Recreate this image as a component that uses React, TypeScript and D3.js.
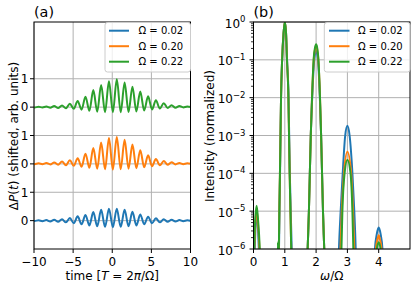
import * as d3 from 'd3';

// ---- panel (a): oscillation extrema ----
const peakT = [-10.42, -9.42, -8.42, -7.42, -6.42, -5.42, -4.42, -3.42, -2.42, -1.42, -0.42, 0.58, 1.58, 2.58, 3.58, 4.58, 5.58, 6.58, 7.58, 8.58, 9.58];
const troughT = [-9.92, -8.92, -7.92, -6.92, -5.92, -4.92, -3.92, -2.92, -1.92, -0.92, 0.08, 1.08, 2.08, 3.08, 4.08, 5.08, 6.08, 7.08, 8.08, 9.08, 10.08];

const bluePeaks = [0.01, 0.01, 0.02, 0.03, 0.05, 0.09, 0.15, 0.2, 0.3, 0.38, 0.42, 0.42, 0.38, 0.31, 0.22, 0.14, 0.08, 0.05, 0.03, 0.02, 0.01];
const blueTroughs = [-0.01, -0.02, -0.03, -0.04, -0.06, -0.09, -0.13, -0.17, -0.2, -0.22, -0.23, -0.22, -0.2, -0.17, -0.13, -0.09, -0.06, -0.04, -0.03, -0.02, -0.01];
const orangePeaks = [0.01, 0.02, 0.03, 0.05, 0.08, 0.13, 0.2, 0.36, 0.56, 0.75, 0.91, 0.95, 0.85, 0.68, 0.48, 0.3, 0.17, 0.1, 0.06, 0.03, 0.02];
const orangeTroughs = [-0.01, -0.01, -0.02, -0.03, -0.05, -0.07, -0.1, -0.14, -0.17, -0.19, -0.2, -0.19, -0.17, -0.15, -0.12, -0.08, -0.05, -0.03, -0.02, -0.01, 0];
const greenPeaks = [0.01, 0.01, 0.02, 0.04, 0.06, 0.12, 0.22, 0.37, 0.6, 0.78, 0.91, 0.98, 0.87, 0.72, 0.55, 0.38, 0.24, 0.14, 0.07, 0.04, 0.02];
const greenTroughs = [-0.01, -0.01, -0.02, -0.03, -0.04, -0.06, -0.09, -0.13, -0.16, -0.18, -0.18, -0.18, -0.17, -0.15, -0.12, -0.08, -0.05, -0.03, -0.02, -0.01, 0];

const shifts = [0, 2, 4];
const xTicksA = [-10, -5, 0, 5, 10];
const yTicksA = [0, 1, 2, 3, 4, 5];
const yTickLabelsA = ['0', '1', '0', '1', '0', '1'];

// ---- panel (b): spectrum peaks [omega/Omega, intensity] ----
const specBlue = [
  [[0.02, 3e-7], [0.04, 1e-6], [0.07, 5e-6], [0.1, 8e-6], [0.13, 5e-6], [0.17, 1e-6], [0.19, 3e-7]],
  [[0.8, 3e-7], [0.815, 1e-6], [0.83, 1e-5], [0.848, 1e-4], [0.864, 1e-3], [0.88, 1e-2], [0.915, 1e-1], [0.96, 0.5], [1.0, 1], [1.04, 0.5], [1.072, 1e-1], [1.12, 1e-2], [1.14, 1e-3], [1.16, 1e-4], [1.19, 1e-5], [1.22, 1e-6], [1.235, 3e-7]],
  [[1.71, 3e-7], [1.73, 1e-6], [1.77, 1e-5], [1.8, 1e-4], [1.83, 1e-3], [1.875, 1e-2], [1.94, 1e-1], [2.0, 0.17], [2.06, 1e-1], [2.12, 1e-2], [2.16, 1e-3], [2.19, 1e-4], [2.22, 1e-5], [2.26, 1e-6], [2.28, 3e-7]],
  [[2.71, 3e-7], [2.73, 1e-6], [2.785, 1e-5], [2.85, 1e-4], [2.93, 1e-3], [3.0, 1.8e-3], [3.07, 1e-3], [3.16, 1e-4], [3.22, 1e-5], [3.265, 1e-6], [3.28, 3e-7]],
  [[3.86, 3e-7], [3.88, 1e-6], [3.94, 2.5e-6], [4.0, 3.7e-6], [4.06, 2.5e-6], [4.12, 1e-6], [4.14, 3e-7]],
];
const specOrange = [
  [[0.0, 3e-7], [0.025, 1e-6], [0.06, 5e-6], [0.1, 1.1e-5], [0.14, 5e-6], [0.19, 1e-6], [0.21, 3e-7]],
  [[0.795, 3e-7], [0.81, 1e-6], [0.825, 1e-5], [0.845, 1e-4], [0.862, 1e-3], [0.88, 1e-2], [0.915, 1e-1], [0.96, 0.5], [1.0, 1], [1.04, 0.5], [1.07, 1e-1], [1.115, 1e-2], [1.135, 1e-3], [1.155, 1e-4], [1.18, 1e-5], [1.205, 1e-6], [1.22, 3e-7]],
  [[1.71, 3e-7], [1.73, 1e-6], [1.77, 1e-5], [1.8, 1e-4], [1.83, 1e-3], [1.87, 1e-2], [1.925, 1e-1], [1.97, 0.2], [2.0, 0.24], [2.03, 0.2], [2.072, 1e-1], [2.125, 1e-2], [2.16, 1e-3], [2.19, 1e-4], [2.22, 1e-5], [2.26, 1e-6], [2.28, 3e-7]],
  [[2.76, 3e-7], [2.78, 1e-6], [2.82, 1e-5], [2.89, 1e-4], [3.0, 3.7e-4], [3.12, 1e-4], [3.18, 1e-5], [3.22, 1e-6], [3.24, 3e-7]],
  [[3.89, 3e-7], [3.91, 1e-6], [3.96, 1.8e-6], [4.0, 2.3e-6], [4.04, 1.8e-6], [4.09, 1e-6], [4.11, 3e-7]],
];
const specGreen = [
  [[0.0, 3e-7], [0.02, 1e-6], [0.055, 6e-6], [0.1, 1.4e-5], [0.145, 6e-6], [0.2, 1e-6], [0.22, 3e-7]],
  [[0.765, 3e-7], [0.78, 1.5e-6], [0.795, 3e-7]],
  [[0.795, 3e-7], [0.81, 1e-6], [0.825, 1e-5], [0.845, 1e-4], [0.862, 1e-3], [0.88, 1e-2], [0.915, 1e-1], [0.96, 0.5], [1.0, 1], [1.04, 0.5], [1.07, 1e-1], [1.115, 1e-2], [1.135, 1e-3], [1.155, 1e-4], [1.18, 1e-5], [1.205, 1e-6], [1.22, 3e-7]],
  [[1.71, 3e-7], [1.73, 1e-6], [1.77, 1e-5], [1.8, 1e-4], [1.83, 1e-3], [1.87, 1e-2], [1.92, 1e-1], [1.97, 0.22], [2.0, 0.26], [2.03, 0.22], [2.075, 1e-1], [2.125, 1e-2], [2.16, 1e-3], [2.19, 1e-4], [2.22, 1e-5], [2.26, 1e-6], [2.28, 3e-7]],
  [[2.79, 3e-7], [2.81, 1e-6], [2.84, 1e-5], [2.91, 1e-4], [3.0, 2.3e-4], [3.1, 1e-4], [3.16, 1e-5], [3.19, 1e-6], [3.21, 3e-7]],
  [[3.92, 3e-7], [3.94, 1e-6], [4.0, 1.5e-6], [4.06, 1e-6], [4.08, 3e-7]],
];
const xTicksB = [0, 1, 2, 3, 4];
const yExpB = [0, -1, -2, -3, -4, -5, -6];

const labels = ['Ω = 0.02', 'Ω = 0.20', 'Ω = 0.22'];
const colors = ['#1f77b4', '#ff7f0e', '#2ca02c'];

const FONT = 'DejaVu Sans';
const GRID = '#b0b0b0';

const A = { l: 34, r: 190.5, t: 22, b: 249 };
const B = { l: 253.5, r: 410, t: 22, b: 249 };

const xA = d3.scaleLinear().domain([-10, 10]).range([A.l, A.r]);
const yA = d3.scaleLinear().domain([-1, 7]).range([A.b, A.t]);
const xB = d3.scaleLinear().domain([0, 5]).range([B.l, B.r]);
const yB = d3.scaleLog().domain([1e-6, 1]).range([B.b, B.t]);

function signal(peaks: number[], troughs: number[], shift: number) {
  const pts: [number, number][] = [
    ...peakT.map((t, i) => [t, peaks[i] + shift] as [number, number]),
    ...troughT.map((t, i) => [t, troughs[i] + shift] as [number, number]),
  ];
  return pts.sort((a, b) => a[0] - b[0]);
}

const lineA = d3
  .line<[number, number]>()
  .x((d) => xA(d[0]))
  .y((d) => yA(d[1]))
  .curve(d3.curveMonotoneX);

const lineB = d3
  .line<number[]>()
  .x((d) => xB(d[0]))
  .y((d) => yB(d[1]))
  .curve(d3.curveMonotoneX);

const fmtNeg = (v: number) => (v < 0 ? '\u2212' + Math.abs(v) : String(v));

function Legend({ x, w, lx0, lx1, tx }: { x: number; w: number; lx0: number; lx1: number; tx: number }) {
  const ys = [30.7, 46.2, 61.7];
  return (
    <g>
      <rect x={x} y={22.5} width={w} height={49.5} rx={2.5} fill="white" fillOpacity={0.8} stroke="#cccccc" strokeWidth={1} />
      {labels.map((lab, i) => (
        <g key={lab}>
          <line x1={lx0} x2={lx1} y1={ys[i]} y2={ys[i]} stroke={colors[i]} strokeWidth={2} />
          <text x={tx} y={ys[i] + 3.6} fontSize={10} fontFamily={FONT}>
            {lab}
          </text>
        </g>
      ))}
    </g>
  );
}

export default function App() {
  const seriesA = [
    signal(bluePeaks, blueTroughs, shifts[0]),
    signal(orangePeaks, orangeTroughs, shifts[1]),
    signal(greenPeaks, greenTroughs, shifts[2]),
  ];
  const seriesB = [specBlue, specOrange, specGreen];
  const minorB: number[] = [];
  for (let e = -6; e < 0; e++) for (let k = 2; k <= 9; k++) minorB.push(k * Math.pow(10, e));

  return (
    <svg width={416} height={288} style={{ position: 'absolute', left: 0, top: 0, background: 'white' }} fontFamily={FONT}>
      <defs>
        <clipPath id="clipA">
          <rect x={A.l} y={A.t} width={A.r - A.l} height={A.b - A.t} />
        </clipPath>
        <clipPath id="clipB">
          <rect x={B.l} y={B.t} width={B.r - B.l} height={B.b - B.t} />
        </clipPath>
      </defs>

      {/* panel (a) */}
      <g>
        {xTicksA.map((v) => (
          <line key={'gx' + v} x1={xA(v)} x2={xA(v)} y1={A.t} y2={A.b} stroke={GRID} strokeWidth={1} />
        ))}
        {yTicksA.map((v) => (
          <line key={'gy' + v} x1={A.l} x2={A.r} y1={yA(v)} y2={yA(v)} stroke={GRID} strokeWidth={1} />
        ))}
        <g clipPath="url(#clipA)">
          {seriesA.map((pts, i) => (
            <path key={i} d={lineA(pts) ?? ''} fill="none" stroke={colors[i]} strokeWidth={2} strokeLinejoin="round" />
          ))}
        </g>
        <rect x={A.l} y={A.t} width={A.r - A.l} height={A.b - A.t} fill="none" stroke="black" strokeWidth={1} />
        {xTicksA.map((v) => (
          <g key={'tx' + v}>
            <line x1={xA(v)} x2={xA(v)} y1={A.b} y2={A.b + 4} stroke="black" strokeWidth={1} />
            <text x={xA(v)} y={265.5} textAnchor="middle" fontSize={12}>
              {fmtNeg(v)}
            </text>
          </g>
        ))}
        {yTicksA.map((v, i) => (
          <g key={'ty' + v}>
            <line x1={A.l - 4} x2={A.l} y1={yA(v)} y2={yA(v)} stroke="black" strokeWidth={1} />
            <text x={28.5} y={yA(v) + 4.3} textAnchor="end" fontSize={12}>
              {yTickLabelsA[i]}
            </text>
          </g>
        ))}
        <text x={A.l} y={17.4} fontSize={14.4}>(a)</text>
        <text x={(A.l + A.r) / 2} y={279.5} textAnchor="middle" fontSize={12}>
          time [<tspan fontStyle="italic">T</tspan> = 2<tspan fontStyle="italic">π</tspan>/Ω]
        </text>
        <text transform={`translate(18,136) rotate(-90)`} textAnchor="middle" fontSize={12}>
          Δ<tspan fontStyle="italic">P</tspan>(<tspan fontStyle="italic">t</tspan>) (shifted, arb. units)
        </text>
        <Legend x={105} w={85.5} lx0={109} lx1={129} tx={138.5} />
      </g>

      {/* panel (b) */}
      <g>
        {xTicksB.map((v) => (
          <line key={'bgx' + v} x1={xB(v)} x2={xB(v)} y1={B.t} y2={B.b} stroke={GRID} strokeWidth={1} />
        ))}
        {yExpB.map((e) => (
          <line key={'bgy' + e} x1={B.l} x2={B.r} y1={yB(Math.pow(10, e))} y2={yB(Math.pow(10, e))} stroke={GRID} strokeWidth={1} />
        ))}
        <g clipPath="url(#clipB)">
          {seriesB.map((segs, i) =>
            segs.map((seg, j) => (
              <path key={i + '-' + j} d={lineB(seg) ?? ''} fill="none" stroke={colors[i]} strokeWidth={2} strokeLinejoin="round" />
            ))
          )}
        </g>
        <rect x={B.l} y={B.t} width={B.r - B.l} height={B.b - B.t} fill="none" stroke="black" strokeWidth={1} />
        {xTicksB.map((v) => (
          <g key={'btx' + v}>
            <line x1={xB(v)} x2={xB(v)} y1={B.b} y2={B.b + 4} stroke="black" strokeWidth={1} />
            <text x={xB(v)} y={265.5} textAnchor="middle" fontSize={12}>
              {v}
            </text>
          </g>
        ))}
        {minorB.map((v) => (
          <line key={'bm' + v} x1={B.l - 2.5} x2={B.l} y1={yB(v)} y2={yB(v)} stroke="black" strokeWidth={0.8} />
        ))}
        {yExpB.map((e) => (
          <g key={'bty' + e}>
            <line x1={B.l - 4} x2={B.l} y1={yB(Math.pow(10, e))} y2={yB(Math.pow(10, e))} stroke="black" strokeWidth={1} />
            <text x={245.5} y={yB(Math.pow(10, e)) + 5.5} textAnchor="end" fontSize={12}>
              10
              <tspan dy={-5.5} fontSize={8.5}>
                {fmtNeg(e)}
              </tspan>
            </text>
          </g>
        ))}
        <text x={B.l} y={17.4} fontSize={14.4}>(b)</text>
        <text x={(B.l + B.r) / 2} y={279.5} textAnchor="middle" fontSize={12}>
          <tspan fontStyle="italic">ω</tspan>/Ω
        </text>
        <text transform={`translate(214,136) rotate(-90)`} textAnchor="middle" fontSize={12}>
          Intensity (normalized)
        </text>
        <Legend x={324.3} w={85.7} lx0={329} lx1={349.5} tx={358} />
      </g>
    </svg>
  );
}
